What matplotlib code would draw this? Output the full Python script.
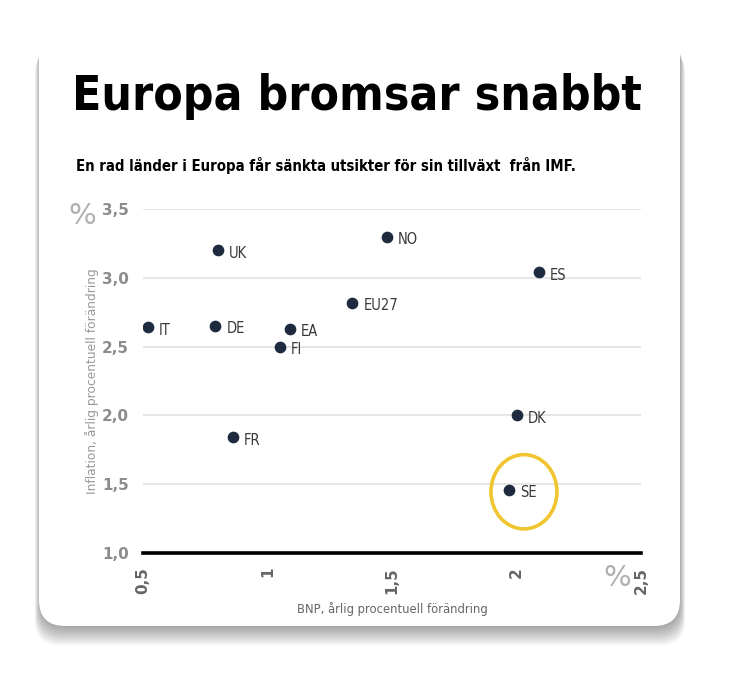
import matplotlib
matplotlib.use("Agg")
import matplotlib.pyplot as plt
from matplotlib import font_manager as fm
from matplotlib.patches import FancyBboxPatch, Ellipse

# data
countries = ["IT", "UK", "DE", "EA", "FI", "EU27", "NO", "ES", "DK", "FR", "SE"]
bnp = [0.52, 0.80, 0.79, 1.09, 1.05, 1.34, 1.48, 2.09, 2.00, 0.86, 1.97]
inflation = [2.64, 3.20, 2.65, 2.63, 2.50, 2.82, 3.30, 3.04, 2.00, 1.84, 1.46]

x_ticks = [0.5, 1, 1.5, 2, 2.5]
x_labels = ["0,5", "1", "1,5", "2", "2,5"]
y_ticks = [1.0, 1.5, 2.0, 2.5, 3.0, 3.5]
y_labels = ["1,0", "1,5", "2,0", "2,5", "3,0", "3,5"]

title = "Europa bromsar snabbt"
subtitle = "En rad länder i Europa får sänkta utsikter för sin tillväxt  från IMF."
x_title = "BNP, årlig procentuell förändring"
y_title = "Inflation, årlig procentuell förändring"


def weight_num(w):
    if isinstance(w, int):
        return w
    return {"bold": 700, "semibold": 600, "demibold": 600, "heavy": 800,
            "black": 900, "extra bold": 800}.get(str(w).lower(), 400)


def find_narrow(bold):
    # look for a condensed / narrow face among installed fonts
    hits = []
    for f in fm.fontManager.ttflist:
        st = str(f.stretch).lower()
        narrow = ("condensed" in st or "narrow" in f.name.lower()
                  or "condensed" in f.name.lower()
                  or (st.isdigit() and int(st) < 500))
        if not narrow or f.style != "normal":
            continue
        w = weight_num(f.weight)
        score = abs(w - (700 if bold else 400))
        hits.append((score, f.fname))
    if hits:
        hits.sort()
        return fm.FontProperties(fname=hits[0][1])
    return fm.FontProperties(family="DejaVu Sans",
                             weight="bold" if bold else "normal")


narrow_bold = find_narrow(True)
narrow_reg = find_narrow(False)

W, H = 736, 678
fig = plt.figure(figsize=(W / 100, H / 100), dpi=100)
fig.patch.set_facecolor("white")
renderer = fig.canvas.get_renderer()


def fit_text(t, width_px, size):
    t.set_fontsize(size)
    w = t.get_window_extent(renderer).width
    t.set_fontsize(size * width_px / w)


# background layer in pixel units for the card
bg = fig.add_axes([0, 0, 1, 1], zorder=0)
bg.set_xlim(0, W)
bg.set_ylim(H, 0)
bg.axis("off")

for k in range(16):
    sh = FancyBboxPatch((40 - k * 0.35, 34 + k * 1.0), 640 + k * 0.7, 593 + k * 0.25,
                        boxstyle="round,pad=0,rounding_size=26",
                        fc="black", ec="none", alpha=0.022)
    bg.add_patch(sh)
card = FancyBboxPatch((39, 26), 641, 600, boxstyle="round,pad=0,rounding_size=26",
                      fc="white", ec="none")
bg.add_patch(card)

t1 = bg.text(357, 96, title, ha="center", va="center", color="black",
             fontproperties=narrow_bold)
fit_text(t1, 570, 50)
t2 = bg.text(76, 166, subtitle, ha="left", va="center", color="black",
             fontproperties=narrow_bold)
fit_text(t2, 500, 12)
bg.text(82, 216, "%", ha="center", va="center", fontsize=21, color="#b0b0b0")
bg.text(617, 578, "%", ha="center", va="center", fontsize=21, color="#b0b0b0")

# main chart
ax = fig.add_axes([143 / W, 1 - 553 / H, 498 / W, 344 / H], zorder=1)
ax.patch.set_alpha(0)
ax.set_xlim(0.5, 2.5)
ax.set_ylim(1.0, 3.5)
for s in ax.spines.values():
    s.set_visible(False)

for yv in y_ticks[1:]:
    ax.axhline(yv, color="#e2e2e2", lw=1.2, zorder=1)
ax.axhline(1.0, color="black", lw=2.6, zorder=2, clip_on=False)

ax.scatter(bnp, inflation, s=55, color="#1e2a3d", zorder=3)
lab_font = narrow_reg.copy()
lab_font.set_size(10.5)
for name, xv, yv in zip(countries, bnp, inflation):
    ax.annotate(name, (xv, yv), xytext=(8, -2), textcoords="offset points",
                ha="left", va="center", color="#3a3a3a", fontproperties=lab_font)

se = countries.index("SE")
circ = Ellipse((bnp[se] + 0.06, inflation[se] - 0.015), width=0.265, height=0.54,
               fill=False, ec="#f0c530", lw=2.6, zorder=2)
ax.add_patch(circ)

ax.set_xticks(x_ticks)
ax.set_xticklabels(x_labels, rotation=90, fontweight="bold", fontsize=11,
                   color="#666666")
ax.set_yticks(y_ticks)
ax.set_yticklabels(y_labels, fontweight="bold", fontsize=11, color="#8c8c8c")
ax.tick_params(length=0, pad=10)

xl = ax.set_xlabel(x_title, color="#666666", fontproperties=narrow_reg, labelpad=6)
fit_text(xl, 190, 10)
ax.set_ylabel(y_title, fontsize=8.8, color="#999999", labelpad=2)

fig.savefig("out.png", dpi=100, facecolor="white")
